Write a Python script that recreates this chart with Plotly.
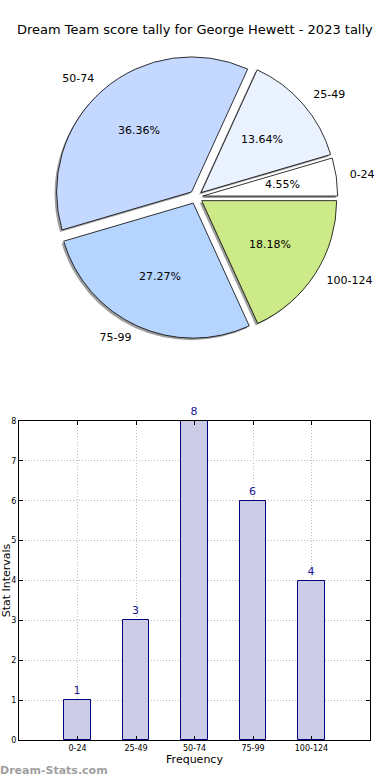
import math
import plotly.graph_objects as go

# ---- data ----
categories = ["0-24", "25-49", "50-74", "75-99", "100-124"]
counts = [1, 3, 8, 6, 4]
slice_colors = ["#ffffff", "#eaf1ff", "#c5d8ff", "#b5d5ff", "#cdea88"]
title_text = "Dream Team score tally for George Hewett - 2023 tally"
y_ticks = [0, 1, 2, 3, 4, 5, 6, 7, 8]

W, H = 390, 780
FONT = "DejaVu Sans"

def px_dom_x(a, b):
    return [a / W, b / W]

def px_dom_y(top, bottom):
    return [1 - bottom / H, 1 - top / H]

total = sum(counts)
# plotly's counterclockwise pies put the first slice clockwise of `rotation`;
# shift so the first slice starts at 3 o'clock and runs counterclockwise
start_rot = 90 - 360 * counts[0] / total

# mid-angles of slices (degrees, counterclockwise from 3 o'clock)
mid_angles = []
acc = 0
for v in counts:
    mid_angles.append(360 * (acc + v / 2) / total)
    acc += v
pct_text = ["%.2f%%" % (100 * v / total) for v in counts]
label_pos = ["middle right" if math.cos(math.radians(a)) >= 0 else "middle left" for a in mid_angles]

cx, cy, r, pull = 196, 197, 135, 0.05
half = r * (1 + pull)
pulls = [pull] * len(counts)
RMAX = 1.25  # radial range of the label overlay (pie radius = 1)

fig = go.Figure()

# shadow pie
sh = 2
fig.add_trace(go.Pie(
    labels=categories, values=counts, sort=False, direction="counterclockwise",
    rotation=start_rot, pull=pulls,
    marker=dict(colors=["rgba(40,40,40,0.45)"] * 5, line=dict(width=0)),
    textinfo="none", hoverinfo="skip", showlegend=False,
    domain=dict(x=px_dom_x(cx - sh - half, cx - sh + half),
                y=px_dom_y(cy + sh - half, cy + sh + half)),
))

# main pie
fig.add_trace(go.Pie(
    labels=categories, values=counts, sort=False, direction="counterclockwise",
    rotation=start_rot, pull=pulls,
    marker=dict(colors=slice_colors, line=dict(color="#000000", width=0.8)),
    textinfo="none", showlegend=False,
    domain=dict(x=px_dom_x(cx - half, cx + half), y=px_dom_y(cy - half, cy + half)),
))

# category labels (at 1.1 r, shifted by the explode offset)
fig.add_trace(go.Scatterpolar(
    r=[1.1 + pull] * len(counts), theta=mid_angles, mode="text",
    text=categories, textposition=label_pos,
    textfont=dict(family=FONT, size=11, color="#000000"),
    hoverinfo="skip", showlegend=False, cliponaxis=False, subplot="polar",
))

# bar chart
fig.add_trace(go.Bar(
    x=categories, y=counts, width=0.45,
    marker=dict(color="#ccccE6", line=dict(color="#000080", width=1)),
    text=[str(v) for v in counts], textposition="outside", cliponaxis=False,
    textfont=dict(family=FONT, size=11, color="#1a1a99"),
    showlegend=False, xaxis="x", yaxis="y",
))

# percentage labels on top of the pie (0.6 r plus the explode offset)
pct_annotations = []
for a, t in zip(mid_angles, pct_text):
    rr = (0.6 + pull) * r
    px = cx + rr * math.cos(math.radians(a))
    py = cy - rr * math.sin(math.radians(a))
    pct_annotations.append(dict(
        text=t, x=px / W, y=1 - py / H, xref="paper", yref="paper",
        showarrow=False, xanchor="center", yanchor="middle",
        font=dict(family=FONT, size=11, color="#000000")))

grid = dict(showgrid=True, gridcolor="#bdbdbd", griddash="1px,2px", gridwidth=1)
PR = r * RMAX

fig.update_layout(
    width=W, height=H,
    margin=dict(l=0, r=0, t=0, b=0),
    paper_bgcolor="white", plot_bgcolor="white",
    font=dict(family=FONT, color="#000000"),
    bargap=0,
    polar=dict(
        domain=dict(x=px_dom_x(cx - PR, cx + PR), y=px_dom_y(cy - PR, cy + PR)),
        bgcolor="rgba(0,0,0,0)",
        radialaxis=dict(range=[0, RMAX], visible=False),
        angularaxis=dict(rotation=0, direction="counterclockwise", visible=False),
    ),
    xaxis=dict(
        domain=px_dom_x(19, 370), range=[-1, 5], type="category",
        showline=True, linecolor="#000000", linewidth=1, mirror="ticks",
        ticks="inside", ticklen=4, tickcolor="#000000",
        tickfont=dict(family=FONT, size=8, color="#000000"),
        title=dict(text="Frequency", font=dict(family=FONT, size=11, color="#000000"), standoff=3),
        automargin=False, zeroline=False, **grid,
    ),
    yaxis=dict(
        domain=px_dom_y(421, 740), range=[0, 8],
        tickvals=y_ticks,
        showline=True, linecolor="#000000", linewidth=1, mirror="ticks",
        ticks="inside", ticklen=4, tickcolor="#000000",
        tickfont=dict(family=FONT, size=8, color="#000000"),
        title=dict(text="Stat Intervals", font=dict(family=FONT, size=11, color="#000000"), standoff=1),
        automargin=False, zeroline=False, **grid,
    ),
    annotations=[
        dict(text=title_text, x=0.5, y=1 - 30 / H, xref="paper", yref="paper",
             showarrow=False, font=dict(family=FONT, size=13, color="#000000"),
             xanchor="center", yanchor="middle"),
        dict(text="<b>Dream-Stats.com</b>", x=-0.005, y=1 - 770 / H, xref="paper", yref="paper",
             showarrow=False, font=dict(family=FONT, size=11, color="#a0a0a0"),
             xanchor="left", yanchor="middle"),
    ] + pct_annotations,
)

fig.write_html("out.html", config={"displayModeBar": False},
               post_script="document.body.style.margin='0';document.body.style.overflow='hidden';")
